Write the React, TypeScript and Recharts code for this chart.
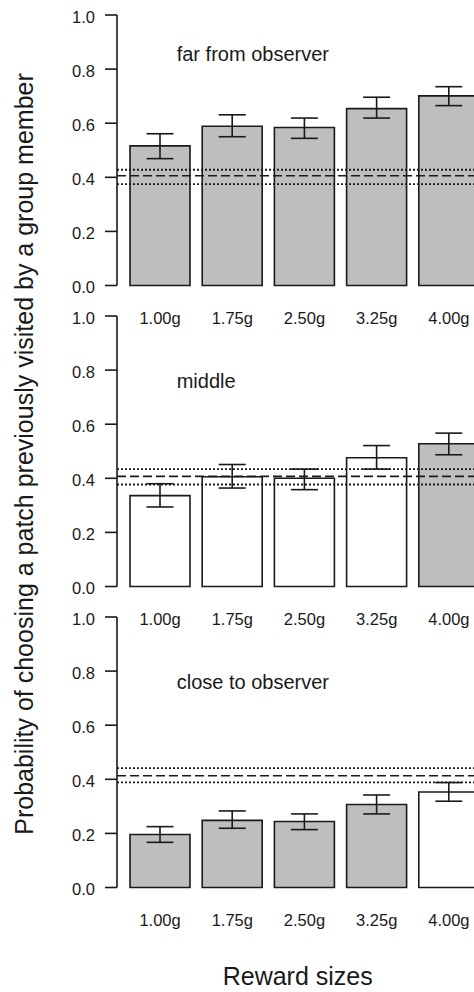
import { BarChart, Bar, XAxis, YAxis, Cell, ErrorBar, ReferenceLine } from "recharts";

const rewardSizes = ["1.00g", "1.75g", "2.50g", "3.25g", "4.00g"];
const panelNames = ["far from observer", "middle", "close to observer"];

// mean probability per reward size, with lower / upper error limits
const farMean = [0.516, 0.589, 0.584, 0.654, 0.701];
const farLow = [0.469, 0.55, 0.544, 0.619, 0.665];
const farHigh = [0.561, 0.631, 0.619, 0.696, 0.735];
const farSignificant = [true, true, true, true, true];

const midMean = [0.336, 0.406, 0.4, 0.476, 0.528];
const midLow = [0.294, 0.364, 0.358, 0.434, 0.487];
const midHigh = [0.38, 0.451, 0.434, 0.521, 0.567];
const midSignificant = [false, false, false, false, true];

const closeMean = [0.196, 0.248, 0.244, 0.307, 0.353];
const closeLow = [0.167, 0.219, 0.214, 0.272, 0.319];
const closeHigh = [0.225, 0.283, 0.272, 0.342, 0.388];
const closeSignificant = [true, true, true, true, false];

// chance level (dashed) and its interval (dotted), one per panel
const chanceMean = [0.406, 0.407, 0.413];
const chanceLow = [0.375, 0.377, 0.389];
const chanceHigh = [0.428, 0.434, 0.441];

const yTicks = [0, 0.2, 0.4, 0.6, 0.8, 1.0];

const means = [farMean, midMean, closeMean];
const lows = [farLow, midLow, closeLow];
const highs = [farHigh, midHigh, closeHigh];
const significant = [farSignificant, midSignificant, closeSignificant];

const FONT = "'Liberation Sans', Arial, sans-serif";
const INK = "#1a1a1a";
const GREY = "#bebebe";
const PLOT_H = 270.5;
const MARGIN_TOP = 10;
const X_AXIS_H = 50;
const baselines = [285.7, 586, 887.3];
const labelBaselines = [60.7, 388.3, 689.3];

const Panel = ({ i }: { i: number }) => {
  const data = rewardSizes.map((size, k) => ({
    size,
    mean: means[i][k],
    err: [means[i][k] - lows[i][k], highs[i][k] - means[i][k]],
  }));
  const top = baselines[i] - PLOT_H - MARGIN_TOP;

  return (
    <div style={{ position: "absolute", left: 0, top }}>
      <BarChart
        width={490}
        height={MARGIN_TOP + PLOT_H + X_AXIS_H}
        data={data}
        margin={{ top: MARGIN_TOP, right: 5, left: 0, bottom: 0 }}
        barSize={60}
      >
        <XAxis
          dataKey="size"
          axisLine={false}
          tickLine={false}
          tickSize={0}
          tickMargin={27}
          height={X_AXIS_H}
          padding={{ left: 7, right: 0 }}
          interval={0}
          tick={{ fill: INK, fontSize: 16.5, fontFamily: FONT }}
        />
        <YAxis
          type="number"
          domain={[0, 1]}
          ticks={yTicks}
          width={117}
          tickSize={12}
          tickMargin={10}
          tickFormatter={(v: number) => v.toFixed(1)}
          axisLine={{ stroke: INK, strokeWidth: 1.6 }}
          tickLine={{ stroke: INK, strokeWidth: 1.6 }}
          tick={{ fill: INK, fontSize: 16.5, fontFamily: FONT, dy: 2 }}
        />
        <Bar dataKey="mean" stroke={INK} strokeWidth={1.6} isAnimationActive={false}>
          {data.map((_, k) => (
            <Cell key={`c-${k}`} fill={significant[i][k] ? GREY : "#ffffff"} />
          ))}
          <ErrorBar
            dataKey="err"
            direction="y"
            width={13.5}
            stroke={INK}
            strokeWidth={1.6}
            isAnimationActive={false}
          />
        </Bar>
        <ReferenceLine y={chanceHigh[i]} stroke={INK} strokeWidth={1.8} strokeDasharray="2 2" />
        <ReferenceLine y={chanceMean[i]} stroke={INK} strokeWidth={1.6} strokeDasharray="9 4" />
        <ReferenceLine y={chanceLow[i]} stroke={INK} strokeWidth={1.8} strokeDasharray="2 2" />
      </BarChart>
    </div>
  );
};

export default function App() {
  return (
    <div
      style={{
        position: "absolute",
        left: 0,
        top: 0,
        width: 474,
        height: 992,
        overflow: "hidden",
        background: "#fff",
      }}
    >
      {panelNames.map((_, i) => (
        <Panel key={i} i={i} />
      ))}
      <svg
        width={474}
        height={992}
        style={{ position: "absolute", left: 0, top: 0, pointerEvents: "none" }}
      >
        {panelNames.map((name, i) => (
          <text key={name} x={176.7} y={labelBaselines[i]} fontSize={20} fontFamily={FONT} fill={INK}>
            {name}
          </text>
        ))}
        <text
          transform="translate(33,454) rotate(-90)"
          textAnchor="middle"
          fontSize={25}
          fontFamily={FONT}
          fill={INK}
        >
          Probability of choosing a patch previously visited by a group member
        </text>
        <text x={222.7} y={985} fontSize={25} fontFamily={FONT} fill={INK}>
          Reward sizes
        </text>
      </svg>
    </div>
  );
}
